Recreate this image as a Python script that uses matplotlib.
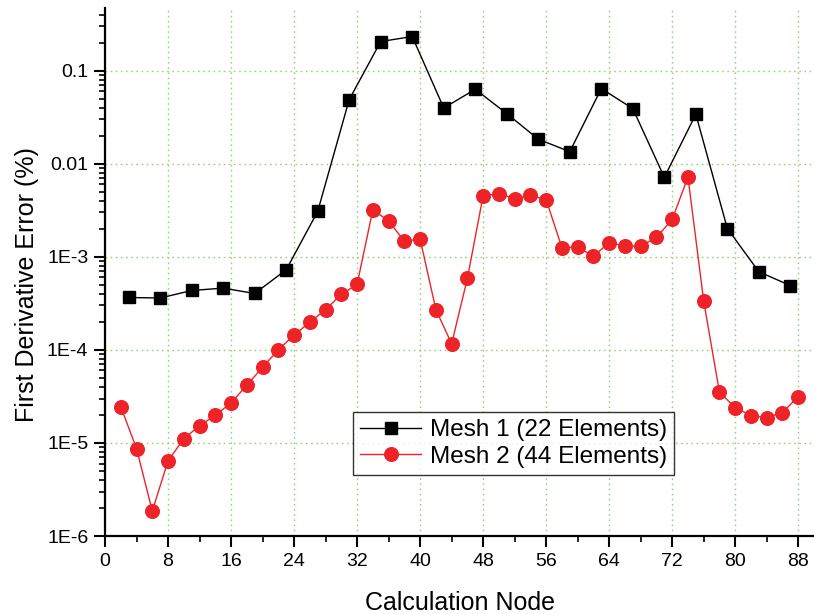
import matplotlib
matplotlib.use("Agg")
import matplotlib.pyplot as plt
import numpy as np
from matplotlib.ticker import FixedLocator, FuncFormatter, LogLocator, MultipleLocator, NullFormatter

plt.rcParams['font.family'] = ['Liberation Sans', 'DejaVu Sans']

mesh1_x = [3, 7, 11, 15, 19, 23, 27, 31, 35, 39, 43, 47, 51, 55, 59, 63, 67, 71, 75, 79, 83, 87]
mesh1_y = [3.65e-4, 3.6e-4, 4.34e-4, 4.6e-4, 4.03e-4, 7.24e-4, 3.07e-3, 0.0488, 0.205, 0.232, 0.0396,
           0.0629, 0.0345, 0.0183, 0.01345, 0.064, 0.039, 7.13e-3, 0.0339, 2.01e-3, 6.9e-4, 4.9e-4]

mesh2_x = list(range(2, 89, 2))
mesh2_y = [2.45e-5, 8.7e-6, 1.86e-6, 6.4e-6, 1.11e-5, 1.53e-5, 1.98e-5, 2.69e-5, 4.16e-5, 6.5e-5,
           1.0e-4, 1.44e-4, 1.98e-4, 2.71e-4, 3.94e-4, 5.04e-4, 3.2e-3, 2.42e-3, 1.47e-3, 1.55e-3,
           2.71e-4, 1.16e-4, 5.85e-4, 4.53e-3, 4.76e-3, 4.2e-3, 4.56e-3, 4.1e-3, 1.25e-3, 1.27e-3,
           1.01e-3, 1.42e-3, 1.3e-3, 1.3e-3, 1.61e-3, 2.52e-3, 7.18e-3, 3.33e-4, 3.5e-5, 2.4e-5,
           1.97e-5, 1.87e-5, 2.12e-5, 3.15e-5]

x_ticks = list(range(0, 89, 8))
y_ticks = [1e-6, 1e-5, 1e-4, 1e-3, 1e-2, 1e-1]
y_tick_labels = ['1E-6', '1E-5', '1E-4', '1E-3', '0.01', '0.1']

fig = plt.figure(figsize=(8.14, 6.14), dpi=100)
ax = fig.add_axes([0.129, 0.127, 0.871, 0.86])

ax.plot(mesh1_x, mesh1_y, color='black', lw=1.0, marker='s', ms=8.6,
        mfc='black', mec='black', label='Mesh 1 (22 Elements)', zorder=3)
ax.plot(mesh2_x, mesh2_y, color='#ee2328', lw=1.0, marker='o', ms=9.8,
        mfc='#ee2328', mec='#ee2328', label='Mesh 2 (44 Elements)', zorder=3)

ax.set_yscale('log')
ax.set_xlim(0, 90)
ax.set_ylim(1e-6, 0.47)

ax.xaxis.set_major_locator(FixedLocator(x_ticks))
ax.xaxis.set_minor_locator(MultipleLocator(4))
ax.yaxis.set_major_locator(FixedLocator(y_ticks))
ax.yaxis.set_major_formatter(FuncFormatter(lambda v, p: y_tick_labels[y_ticks.index(min(y_ticks, key=lambda t: abs(np.log10(t) - np.log10(v))))]))
ax.yaxis.set_minor_locator(LogLocator(base=10, subs=np.arange(2, 10), numticks=20))
ax.yaxis.set_minor_formatter(NullFormatter())

ax.grid(True, which='major', color='#95d474', linestyle=(0, (1.2, 2.5)), linewidth=1.0, zorder=0)

for s in ['top', 'right']:
    ax.spines[s].set_visible(False)
for s in ['left', 'bottom']:
    ax.spines[s].set_linewidth(1.6)

ax.tick_params(which='major', direction='out', length=8, width=1.5, labelsize=14, pad=4)
ax.tick_params(which='minor', direction='out', length=4.5, width=1.2)

ax.set_xlabel('Calculation Node', fontsize=18, labelpad=15)
ax.set_ylabel('First Derivative Error (%)', fontsize=18, labelpad=6)
ax.yaxis.label.set_y(0.477)

leg = ax.legend(loc='lower left', bbox_to_anchor=(0.35, 0.115), fontsize=17.5,
                frameon=True, fancybox=False, edgecolor='black', borderaxespad=0,
                handlelength=2.5, borderpad=0.3, labelspacing=0.2, handletextpad=0.35)
leg.get_frame().set_linewidth(1.0)

fig.savefig('out.png', dpi=100)
